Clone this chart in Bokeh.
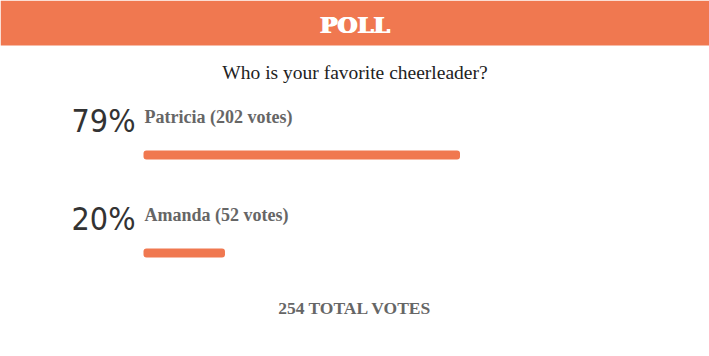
import math
from bokeh.plotting import figure
from bokeh.models import Range1d, ColumnDataSource
from bokeh.core.properties import value
from bokeh.embed import file_html
from bokeh.resources import INLINE

# ---- data ----
title = "POLL"
question = "Who is your favorite cheerleader?"
names = ["Patricia", "Amanda"]
votes = [202, 52]
total = sum(votes)
pcts = [v / total * 100 for v in votes]
pct_labels = [f"{math.floor(p)}%" for p in pcts]
vote_labels = [f"{n} ({v} votes)" for n, v in zip(names, votes)]
total_label = f"{total} TOTAL VOTES"

# ---- layout (pixel-based y, percent-based x) ----
W, H = 709, 356
BAR_X0 = 143          # pixel where bars start
PX_PER_PCT = 3.98
ROW_STEP = 98

orange = "#F07850"
x_start = -BAR_X0 / PX_PER_PCT
x_end = (W - BAR_X0) / PX_PER_PCT
x_center = (W / 2 - BAR_X0) / PX_PER_PCT

p = figure(width=W, height=H, x_range=Range1d(x_start, x_end), y_range=Range1d(H, 0),
           output_backend="svg", toolbar_location=None, min_border=0)
p.axis.visible = False
p.grid.visible = False
p.outline_line_color = None
p.background_fill_color = "white"
p.border_fill_color = "white"

# header band
p.quad(left=[x_start], right=[x_end], top=[0], bottom=[45], fill_color=orange, line_color=None)

# heavy title: drawn with slight offsets to thicken strokes
for dx in (-0.8, 0, 0.8):
    p.text(x=[x_center], y=[24], text=[title], x_offset=dx,
           text_font=value("DejaVu Serif"), text_font_style="bold",
           text_font_size="23px", text_color="white", text_align="center", text_baseline="middle")

p.text(x=[x_center], y=[72], text=[question], text_font=value("Liberation Serif"),
       text_font_size="19.5px", text_color="#222222", text_align="center", text_baseline="middle")

rows = list(range(len(names)))
src = ColumnDataSource(dict(
    pct=pcts,
    pct_label=pct_labels,
    vote_label=vote_labels,
    y_pct=[120 + ROW_STEP * i for i in rows],
    y_lab=[116 + ROW_STEP * i for i in rows],
    y_bar=[154.5 + ROW_STEP * i for i in rows],
))

p.text(x=0, y="y_pct", text="pct_label", source=src, x_offset=-8,
       text_font=value("DejaVu Sans Condensed"), text_font_size="32px", text_color="#333333",
       text_align="right", text_baseline="middle")
p.text(x=0, y="y_lab", text="vote_label", source=src, x_offset=1,
       text_font=value("Liberation Serif"), text_font_style="bold", text_font_size="18px",
       text_color="#666666", text_align="left", text_baseline="middle")
p.hbar(y="y_bar", left=0, right="pct", height=9, source=src, fill_color=orange,
       line_color=None, border_radius=3)

p.text(x=[x_center], y=[307], text=[total_label], text_font=value("Liberation Serif"),
       text_font_style="bold", text_font_size="17.5px", text_color="#666666",
       text_align="center", text_baseline="middle")

open("out.html", "w").write(file_html(p, INLINE))
